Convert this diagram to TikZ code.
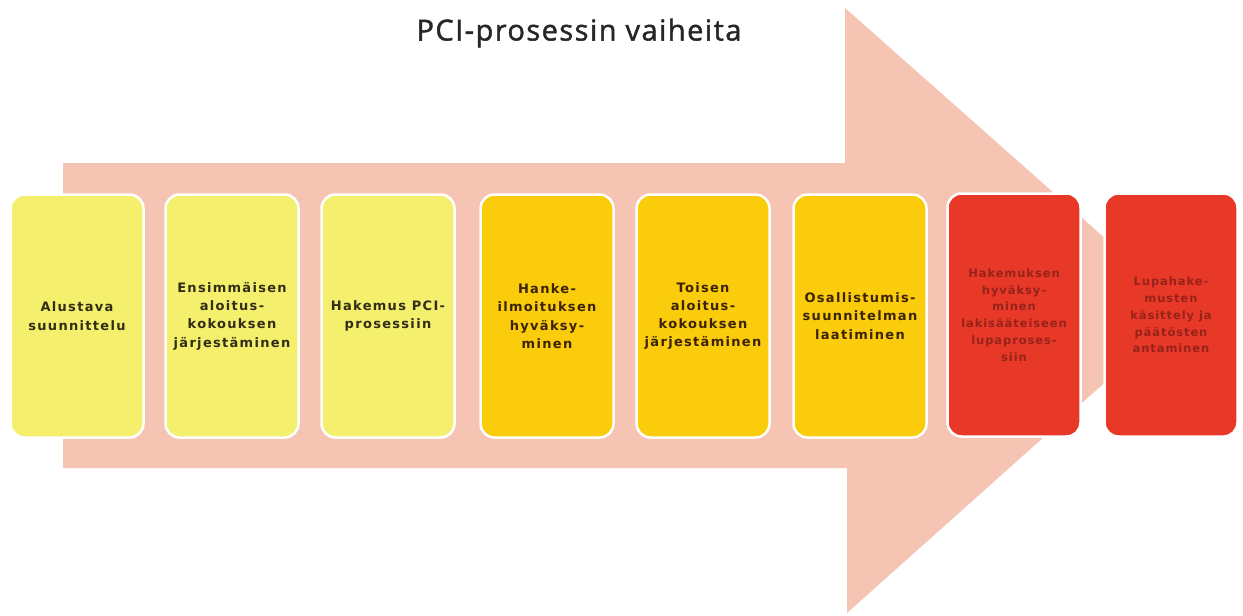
\documentclass[tikz,border=0pt]{standalone}
\usepackage{fontspec}
\setmainfont{DejaVu Sans}
\newfontfamily\titlefont[LetterSpace=5,FakeBold=1.5]{Open Sans}
\newfontfamily\boxfont[LetterSpace=10]{DejaVu Sans}
\newfontfamily\redfont[LetterSpace=8]{DejaVu Sans}
\definecolor{arrowpink}{RGB}{245,196,178}
\definecolor{lightyel}{RGB}{244,240,110}
\definecolor{goldyel}{RGB}{250,204,12}
\definecolor{redbox}{RGB}{232,56,40}
\definecolor{txtdark}{RGB}{50,45,20}
\definecolor{txtbrown}{RGB}{60,35,5}
\definecolor{txtred}{RGB}{150,35,25}
\tikzset{
  stepbox/.style={rounded corners=14pt, draw=white, line width=2.5pt,
    minimum width=133pt, minimum height=243pt, align=center, inner sep=2pt,
    font=\boxfont\bfseries\fontsize{13}{18.3}\selectfont},
  yelbox/.style={stepbox, fill=lightyel, text=txtdark},
  goldbox/.style={stepbox, fill=goldyel, text=txtbrown},
  rbox/.style={stepbox, fill=redbox, text=txtred, font=\redfont\bfseries\fontsize{11.5}{16.8}\selectfont},
}
\begin{document}
\begin{tikzpicture}[x=1pt,y=-1pt]
\useasboundingbox (0,0) rectangle (1243,616);
\fill[white] (0,0) rectangle (1243,616);
% big arrow
\fill[arrowpink] (63,163) -- (845,163) -- (845,8) -- (1186,310) -- (847,613) -- (847,468) -- (63,468) -- cycle;
% title
\node[font=\titlefont\fontsize{29}{33}\selectfont, text=black!85] (title) at (579,33) {PCI-prosessin vaiheita};
% step boxes
\node[yelbox]  (b1) at (77,316)   {Alustava\\suunnittelu};
\node[yelbox]  (b2) at (232,316)  {Ensimmäisen\\aloitus-\\kokouksen\\järjestäminen};
\node[yelbox]  (b3) at (388,316)  {Hakemus PCI-\\prosessiin};
\node[goldbox] (b4) at (547,316)  {Hanke-\\ilmoituksen\\hyväksy-\\minen};
\node[goldbox] (b5) at (703,316)  {Toisen\\aloitus-\\kokouksen\\järjestäminen};
\node[goldbox] (b6) at (860,316)  {Osallistumis-\\suunnitelman\\laatiminen};
\node[rbox]    (b7) at (1014,315) {Hakemuksen\\hyväksy-\\minen\\lakisääteiseen\\lupaproses-\\siin};
\node[rbox]    (b8) at (1171,315) {Lupahake-\\musten\\käsittely ja\\päätösten\\antaminen};
\end{tikzpicture}
\end{document}
